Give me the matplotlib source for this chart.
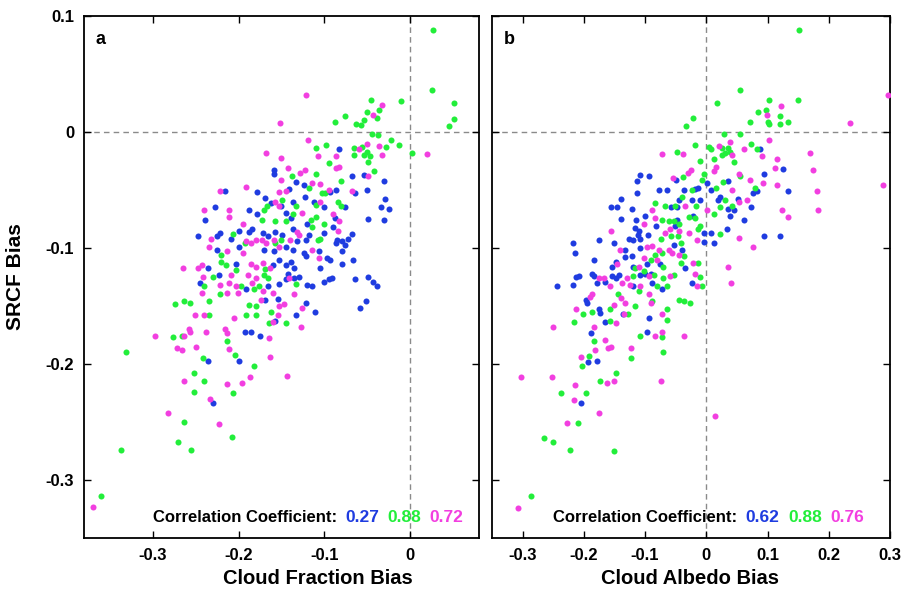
import numpy as np
import matplotlib.pyplot as plt

plt.rcParams['font.family'] = ['Liberation Sans', 'DejaVu Sans']
plt.rcParams['axes.unicode_minus'] = False

# (bias in cloud fraction / cloud albedo, bias in SRCF)
A_BLUE = np.array([
    (-0.159, -0.033), (-0.159, -0.036), (-0.133, -0.043), (-0.068, -0.038), (-0.054, -0.037), (-0.031, -0.042),
    (-0.141, -0.049), (-0.124, -0.046), (-0.087, -0.050), (-0.093, -0.052), (-0.064, -0.053), (-0.051, -0.050),
    (-0.216, -0.051), (-0.178, -0.052), (-0.169, -0.057), (-0.162, -0.061), (-0.151, -0.064), (-0.137, -0.060),
    (-0.123, -0.056), (-0.112, -0.060), (-0.100, -0.065), (-0.076, -0.065), (-0.029, -0.058), (-0.034, -0.065),
    (-0.025, -0.066), (-0.227, -0.065), (-0.188, -0.067), (-0.239, -0.076), (-0.179, -0.071), (-0.139, -0.074),
    (-0.120, -0.079), (-0.088, -0.074), (-0.049, -0.075), (-0.031, -0.076), (-0.145, -0.070), (-0.247, -0.090),
    (-0.225, -0.090), (-0.222, -0.087), (-0.209, -0.092), (-0.200, -0.085), (-0.188, -0.086), (-0.184, -0.084),
    (-0.171, -0.087), (-0.166, -0.090), (-0.157, -0.086), (-0.149, -0.089), (-0.137, -0.084), (-0.132, -0.094),
    (-0.122, -0.093), (-0.118, -0.089), (-0.101, -0.087), (-0.090, -0.082), (-0.085, -0.093), (-0.080, -0.094),
    (-0.073, -0.092), (-0.068, -0.088), (-0.225, -0.102), (-0.199, -0.099), (-0.170, -0.102), (-0.159, -0.103),
    (-0.145, -0.099), (-0.137, -0.102), (-0.124, -0.104), (-0.122, -0.107), (-0.106, -0.103), (-0.097, -0.109),
    (-0.093, -0.110), (-0.080, -0.103), (-0.076, -0.097), (-0.087, -0.096), (-0.236, -0.117), (-0.223, -0.123),
    (-0.203, -0.114), (-0.160, -0.115), (-0.153, -0.110), (-0.145, -0.115), (-0.139, -0.112), (-0.135, -0.117),
    (-0.143, -0.122), (-0.105, -0.117), (-0.079, -0.114), (-0.067, -0.110), (-0.245, -0.130), (-0.191, -0.135),
    (-0.166, -0.133), (-0.153, -0.131), (-0.145, -0.127), (-0.135, -0.126), (-0.130, -0.125), (-0.120, -0.132),
    (-0.114, -0.133), (-0.101, -0.129), (-0.095, -0.127), (-0.091, -0.126), (-0.064, -0.127), (-0.049, -0.125),
    (-0.044, -0.129), (-0.039, -0.133), (-0.169, -0.145), (-0.154, -0.144), (-0.122, -0.147), (-0.052, -0.146),
    (-0.059, -0.152), (-0.157, -0.163), (-0.133, -0.158), (-0.111, -0.155), (-0.083, -0.015), (-0.193, -0.172),
    (-0.186, -0.172), (-0.175, -0.176), (-0.236, -0.197), (-0.200, -0.197), (-0.230, -0.234),
])

A_GREEN = np.array([
    (-0.095, -0.027), (-0.110, -0.036), (-0.138, -0.038), (-0.042, -0.034), (-0.049, -0.026), (-0.081, -0.042),
    (-0.118, -0.048), (-0.103, -0.053), (-0.099, -0.053), (-0.149, -0.059), (-0.133, -0.064), (-0.110, -0.063),
    (-0.084, -0.060), (-0.081, -0.064), (-0.170, -0.067), (-0.167, -0.064), (-0.173, -0.076), (-0.157, -0.077),
    (-0.145, -0.077), (-0.137, -0.071), (-0.116, -0.076), (-0.110, -0.073), (-0.101, -0.079), (-0.206, -0.088),
    (-0.192, -0.096), (-0.151, -0.093), (-0.114, -0.082), (-0.108, -0.093), (-0.105, -0.092), (-0.221, -0.106),
    (-0.157, -0.096), (-0.220, -0.112), (-0.215, -0.115), (-0.203, -0.119), (-0.169, -0.118), (-0.170, -0.123),
    (-0.166, -0.126), (-0.230, -0.125), (-0.240, -0.133), (-0.197, -0.133), (-0.182, -0.135), (-0.176, -0.133),
    (-0.133, -0.131), (-0.274, -0.148), (-0.263, -0.146), (-0.257, -0.147), (-0.234, -0.146), (-0.222, -0.140),
    (-0.188, -0.149), (-0.180, -0.150), (-0.234, -0.158), (-0.191, -0.158), (-0.180, -0.158), (-0.162, -0.155),
    (-0.164, -0.165), (-0.145, -0.165),
    (0.027, 0.088), (0.025, 0.036), (0.051, 0.025), (0.051, 0.011), (0.045, 0.005), (0.002, -0.018),
    (-0.013, -0.011), (-0.011, 0.027), (-0.046, 0.028), (-0.036, 0.019), (-0.051, 0.017), (-0.076, 0.014),
    (-0.088, 0.009), (-0.054, 0.010), (-0.063, 0.007), (-0.058, 0.006), (-0.039, 0.012), (-0.045, -0.002),
    (-0.038, -0.003), (-0.023, -0.007), (-0.028, -0.013), (-0.110, -0.014), (-0.098, -0.011), (-0.066, -0.014),
    (-0.056, -0.013), (-0.065, -0.020), (-0.054, -0.020), (-0.050, -0.017), (-0.047, -0.021),
    (-0.276, -0.177), (-0.266, -0.176), (-0.214, -0.180), (-0.331, -0.190), (-0.242, -0.195), (-0.204, -0.192),
    (-0.182, -0.202), (-0.252, -0.208), (-0.240, -0.215), (-0.252, -0.224), (-0.206, -0.225), (-0.264, -0.250),
    (-0.270, -0.267), (-0.208, -0.263), (-0.255, -0.274), (-0.337, -0.274), (-0.360, -0.314),
])

A_MAGENTA = np.array([
    (-0.142, -0.031), (-0.128, -0.035), (-0.123, -0.033), (-0.087, -0.031), (-0.083, -0.030), (-0.049, -0.038),
    (-0.191, -0.047), (-0.151, -0.041), (-0.145, -0.051), (-0.153, -0.052), (-0.114, -0.044), (-0.105, -0.045),
    (-0.095, -0.050), (-0.068, -0.051), (-0.222, -0.051), (-0.157, -0.060), (-0.153, -0.064), (-0.105, -0.060),
    (-0.240, -0.067), (-0.211, -0.067), (-0.211, -0.073), (-0.126, -0.070), (-0.090, -0.071), (-0.083, -0.077),
    (-0.195, -0.079), (-0.232, -0.092), (-0.191, -0.094), (-0.180, -0.093), (-0.173, -0.093), (-0.159, -0.093),
    (-0.140, -0.093), (-0.132, -0.086), (-0.130, -0.089), (-0.084, -0.085), (-0.234, -0.099), (-0.213, -0.103),
    (-0.195, -0.104), (-0.186, -0.096), (-0.168, -0.096), (-0.153, -0.099), (-0.114, -0.102), (-0.106, -0.109),
    (-0.265, -0.117), (-0.247, -0.117), (-0.243, -0.115), (-0.242, -0.125), (-0.209, -0.123), (-0.186, -0.114),
    (-0.180, -0.116), (-0.163, -0.117), (-0.172, -0.113), (-0.189, -0.123), (-0.180, -0.126), (-0.141, -0.126),
    (-0.211, -0.130), (-0.203, -0.133), (-0.184, -0.130), (-0.172, -0.137), (-0.222, -0.132), (-0.243, -0.139),
    (-0.213, -0.139), (-0.201, -0.139), (-0.174, -0.145), (-0.160, -0.139), (-0.147, -0.148), (-0.153, -0.150),
    (-0.135, -0.140), (-0.126, -0.152), (-0.251, -0.158), (-0.240, -0.158), (-0.205, -0.160), (-0.154, -0.158),
    (-0.160, -0.164), (-0.127, -0.168), (-0.258, -0.170), (-0.216, -0.170),
    (0.019, -0.019), (-0.122, 0.032), (-0.033, 0.023), (-0.043, 0.015), (-0.152, 0.008), (-0.036, -0.012),
    (-0.119, -0.007), (-0.168, -0.018), (-0.060, -0.015), (-0.051, -0.010), (-0.107, -0.021), (-0.033, -0.020),
    (-0.087, -0.021), (-0.151, -0.022),
    (-0.297, -0.176), (-0.263, -0.176), (-0.257, -0.172), (-0.238, -0.172), (-0.214, -0.173), (-0.272, -0.186),
    (-0.266, -0.188), (-0.250, -0.185), (-0.211, -0.187), (-0.264, -0.215), (-0.213, -0.217), (-0.196, -0.216),
    (-0.187, -0.211), (-0.233, -0.230), (-0.282, -0.242), (-0.223, -0.252), (-0.370, -0.323),
    (-0.165, -0.178), (-0.163, -0.194), (-0.144, -0.210),
])

B_BLUE = np.array([
    (-0.108, -0.037), (-0.094, -0.038), (-0.114, -0.042), (-0.078, -0.050), (-0.065, -0.050), (-0.113, -0.053),
    (-0.139, -0.058), (-0.155, -0.065), (-0.146, -0.065), (-0.121, -0.066), (-0.100, -0.072), (-0.139, -0.075),
    (-0.115, -0.076), (-0.117, -0.083), (-0.110, -0.085), (-0.112, -0.089), (-0.082, -0.081), (-0.176, -0.093),
    (-0.150, -0.096), (-0.127, -0.092), (-0.119, -0.093), (-0.109, -0.092), (-0.095, -0.089), (-0.108, -0.100),
    (-0.218, -0.096), (-0.215, -0.104), (-0.184, -0.110), (-0.132, -0.102), (-0.121, -0.107), (-0.154, -0.116),
    (-0.148, -0.112), (-0.132, -0.108), (-0.119, -0.116), (-0.097, -0.114), (-0.075, -0.114), (-0.244, -0.133),
    (-0.218, -0.132), (-0.212, -0.125), (-0.208, -0.124), (-0.187, -0.122), (-0.184, -0.124), (-0.178, -0.130),
    (-0.165, -0.129), (-0.154, -0.124), (-0.148, -0.126), (-0.143, -0.123), (-0.108, -0.123), (-0.100, -0.122),
    (-0.090, -0.122), (-0.089, -0.130), (-0.119, -0.133), (-0.072, -0.135), (-0.195, -0.147), (-0.197, -0.145),
    (-0.176, -0.153), (-0.173, -0.156), (-0.136, -0.157), (-0.094, -0.160), (-0.166, -0.164),
    (0.088, -0.015), (0.036, -0.042), (0.094, -0.036), (0.125, -0.032), (-0.049, -0.041), (0.083, -0.051),
    (0.077, -0.053), (0.134, -0.051), (0.001, -0.044), (-0.018, -0.049), (-0.014, -0.048), (0.007, -0.050),
    (-0.037, -0.050), (0.023, -0.056), (0.019, -0.059), (0.051, -0.058), (-0.045, -0.059), (-0.023, -0.059),
    (-0.011, -0.059), (-0.057, -0.065), (-0.048, -0.065), (0.036, -0.066), (0.045, -0.067), (0.039, -0.072),
    (0.073, -0.065), (-0.021, -0.072), (0.061, -0.076), (-0.048, -0.076), (-0.003, -0.087), (0.007, -0.087),
    (0.034, -0.084), (0.095, -0.090), (0.120, -0.090), (-0.051, -0.081), (-0.004, -0.095), (0.012, -0.096),
    (-0.053, -0.097), (-0.040, -0.102), (-0.034, -0.117), (-0.023, -0.130),
    (-0.097, -0.172), (-0.188, -0.173), (-0.194, -0.198), (-0.178, -0.197), (-0.204, -0.234),
])

B_GREEN = np.array([
    (-0.083, -0.061), (-0.067, -0.064), (-0.072, -0.076), (-0.061, -0.077), (-0.074, -0.092), (-0.083, -0.106),
    (-0.072, -0.104), (-0.117, -0.117), (-0.091, -0.110), (-0.070, -0.116), (-0.119, -0.124), (-0.102, -0.120),
    (-0.086, -0.123), (-0.080, -0.133), (-0.110, -0.137), (-0.071, -0.126), (-0.064, -0.133), (-0.202, -0.157),
    (-0.187, -0.155), (-0.157, -0.153), (-0.145, -0.140), (-0.116, -0.150), (-0.128, -0.157), (-0.089, -0.146),
    (-0.064, -0.153), (-0.216, -0.164), (-0.157, -0.163), (-0.064, -0.162),
    (0.018, 0.025), (0.085, 0.017), (0.121, 0.014), (0.072, 0.009), (0.100, 0.009), (0.103, 0.007),
    (0.120, 0.007), (0.134, 0.009), (-0.021, 0.012), (-0.033, 0.005), (0.029, -0.002), (0.055, -0.002),
    (-0.018, -0.011), (-0.048, -0.017), (0.004, -0.013), (0.007, -0.015), (0.026, -0.014), (0.036, -0.014),
    (0.073, -0.010), (0.082, -0.015), (0.012, -0.023), (0.026, -0.020), (0.031, -0.018), (0.039, -0.017),
    (0.046, -0.026), (-0.011, -0.025), (-0.004, -0.036), (0.055, -0.038), (0.028, -0.043), (-0.038, -0.039),
    (0.079, -0.048), (-0.007, -0.041), (-0.024, -0.050), (0.016, -0.048), (0.031, -0.059), (-0.040, -0.056),
    (-0.051, -0.064), (-0.017, -0.064), (0.012, -0.071), (0.042, -0.064), (0.023, -0.065), (-0.029, -0.073),
    (-0.018, -0.074), (-0.053, -0.077), (-0.045, -0.079), (-0.010, -0.081), (-0.014, -0.084), (0.022, -0.088),
    (-0.047, -0.090), (-0.057, -0.090), (-0.041, -0.096), (-0.037, -0.107), (-0.042, -0.113), (-0.013, -0.113),
    (-0.011, -0.125), (-0.007, -0.133), (-0.037, -0.146), (-0.026, -0.147), (-0.053, -0.123), (-0.045, -0.145),
    (0.151, 0.088), (0.055, 0.036), (0.149, 0.028), (0.103, 0.028), (0.098, 0.019),
    (-0.108, -0.176), (-0.072, -0.177), (-0.184, -0.180), (-0.123, -0.195), (-0.070, -0.190), (-0.192, -0.193),
    (-0.203, -0.202), (-0.147, -0.208), (-0.174, -0.215), (-0.197, -0.225), (-0.238, -0.225), (-0.210, -0.251),
    (-0.265, -0.264), (-0.250, -0.267), (-0.222, -0.274), (-0.151, -0.275), (-0.287, -0.314),
])

B_MAGENTA = np.array([
    (-0.072, -0.019), (-0.089, -0.067), (-0.083, -0.074), (-0.102, -0.079), (-0.155, -0.085), (-0.060, -0.084),
    (-0.067, -0.087), (-0.097, -0.099), (-0.089, -0.098), (-0.141, -0.102), (-0.061, -0.102), (-0.078, -0.102),
    (-0.146, -0.114), (-0.110, -0.116), (-0.102, -0.109), (-0.080, -0.110), (-0.176, -0.126), (-0.167, -0.126),
    (-0.158, -0.133), (-0.138, -0.130), (-0.129, -0.126), (-0.124, -0.132), (-0.094, -0.124), (-0.108, -0.133),
    (-0.094, -0.140), (-0.060, -0.124), (-0.187, -0.140), (-0.190, -0.142), (-0.213, -0.153), (-0.150, -0.149),
    (-0.140, -0.143), (-0.132, -0.147), (-0.135, -0.157), (-0.091, -0.147), (-0.072, -0.157), (-0.251, -0.168),
    (-0.184, -0.168), (-0.148, -0.165),
    (0.122, 0.022), (0.099, 0.015), (-0.038, -0.019), (0.020, -0.012), (0.038, -0.009), (0.102, -0.007),
    (0.042, -0.020), (0.061, -0.015), (0.091, -0.021), (0.115, -0.023), (-0.025, -0.033), (-0.030, -0.035),
    (0.012, -0.034), (0.016, -0.030), (0.053, -0.036), (0.113, -0.031), (-0.055, -0.040), (0.072, -0.041),
    (0.092, -0.044), (0.115, -0.046), (0.042, -0.050), (0.066, -0.059), (-0.034, -0.064), (0.001, -0.067),
    (0.053, -0.060), (0.123, -0.067), (0.133, -0.073), (0.054, -0.091), (0.077, -0.099), (-0.044, -0.085),
    (-0.029, -0.087), (-0.015, -0.093), (-0.056, -0.104), (-0.045, -0.106), (-0.022, -0.113), (-0.018, -0.122),
    (0.035, -0.116), (0.040, -0.130), (-0.016, -0.133),
    (0.296, 0.032), (0.235, 0.008), (0.170, -0.018), (0.174, -0.033), (0.181, -0.051), (0.182, -0.067),
    (0.289, -0.046), (0.014, -0.245),
    (-0.084, -0.176), (-0.072, -0.172), (-0.036, -0.176), (-0.166, -0.179), (-0.181, -0.188), (-0.161, -0.186),
    (-0.155, -0.185), (-0.123, -0.186), (-0.204, -0.194), (-0.302, -0.211), (-0.252, -0.211), (-0.162, -0.216),
    (-0.151, -0.215), (-0.074, -0.215), (-0.214, -0.218), (-0.216, -0.231), (-0.176, -0.242), (-0.228, -0.251),
    (-0.307, -0.324),
])

A_CORR = ['0.27', '0.88', '0.72']
B_CORR = ['0.62', '0.88', '0.76']

A_XTICKS = [-0.3, -0.2, -0.1, 0]
A_XLABELS = ['-0.3', '-0.2', '-0.1', '0']
B_XTICKS = [-0.3, -0.2, -0.1, 0, 0.1, 0.2, 0.3]
B_XLABELS = ['-0.3', '-0.2', '-0.1', '0', '0.1', '0.2', '0.3']
YTICKS = [0.1, 0, -0.1, -0.2, -0.3]
YLABELS = ['0.1', '0', '-0.1', '-0.2', '-0.3']

COLORS = ['#1f3ce0', '#22ee3a', '#f23fe0']


def draw_panel(ax, series, corr, letter, xlabel, xlim, xticks, xlabels, xlab_x):
    for pts, col in zip(series, COLORS):
        ax.scatter(pts[:, 0], pts[:, 1], s=19, c=col, linewidths=0, zorder=3)
    ax.axhline(0, color='#8a8a8a', ls=(0, (4, 3)), lw=1, zorder=1)
    ax.axvline(0, color='#8a8a8a', ls=(0, (4, 3)), lw=1, zorder=1)
    ax.set_xlim(*xlim)
    ax.set_ylim(-0.35, 0.1)
    ax.set_xticks(xticks)
    ax.set_xticklabels(xlabels, fontsize=12, fontweight='bold')
    ax.set_yticks(YTICKS)
    ax.tick_params(direction='in', top=True, right=True, length=5, width=1, pad=7)
    for sp in ax.spines.values():
        sp.set_linewidth(1.3)
    ax.set_xlabel(xlabel, fontsize=14.5, fontweight='bold')
    ax.xaxis.set_label_coords(xlab_x, -0.06)
    ax.text(0.03, 0.955, letter, transform=ax.transAxes, fontsize=13,
            fontweight='bold', va='center')

    # correlation line, pieces chained one after the other
    t = ax.text(corr[0], 0.04, 'Correlation Coefficient:', transform=ax.transAxes,
                fontsize=12, fontweight='bold', va='center')
    for val, col in zip(corr[1], COLORS):
        t = ax.annotate(val, xy=(1, 0), xycoords=t, xytext=(6, 0), textcoords='offset points',
                        fontsize=12.5, fontweight='bold', color=col, va='bottom')


fig = plt.figure(figsize=(9.10, 5.97), dpi=100)
ax_a = fig.add_axes([84 / 910, 59 / 597, 395 / 910, 522 / 597])
ax_b = fig.add_axes([492 / 910, 59 / 597, 398 / 910, 522 / 597])

draw_panel(ax_a, [A_BLUE, A_GREEN, A_MAGENTA], (0.175, A_CORR), 'a', 'Cloud Fraction Bias',
           (-0.38, 0.08), A_XTICKS, A_XLABELS, 0.592)
draw_panel(ax_b, [B_BLUE, B_GREEN, B_MAGENTA], (0.154, B_CORR), 'b', 'Cloud Albedo Bias',
           (-0.35, 0.3), B_XTICKS, B_XLABELS, 0.497)

ax_a.set_yticklabels(YLABELS, fontsize=12, fontweight='bold')
ax_b.set_yticklabels([])
ax_a.set_ylabel('SRCF Bias', fontsize=15, fontweight='bold')
ax_a.yaxis.set_label_coords(-0.149, 0.5)

fig.savefig('out.png', dpi=100)
